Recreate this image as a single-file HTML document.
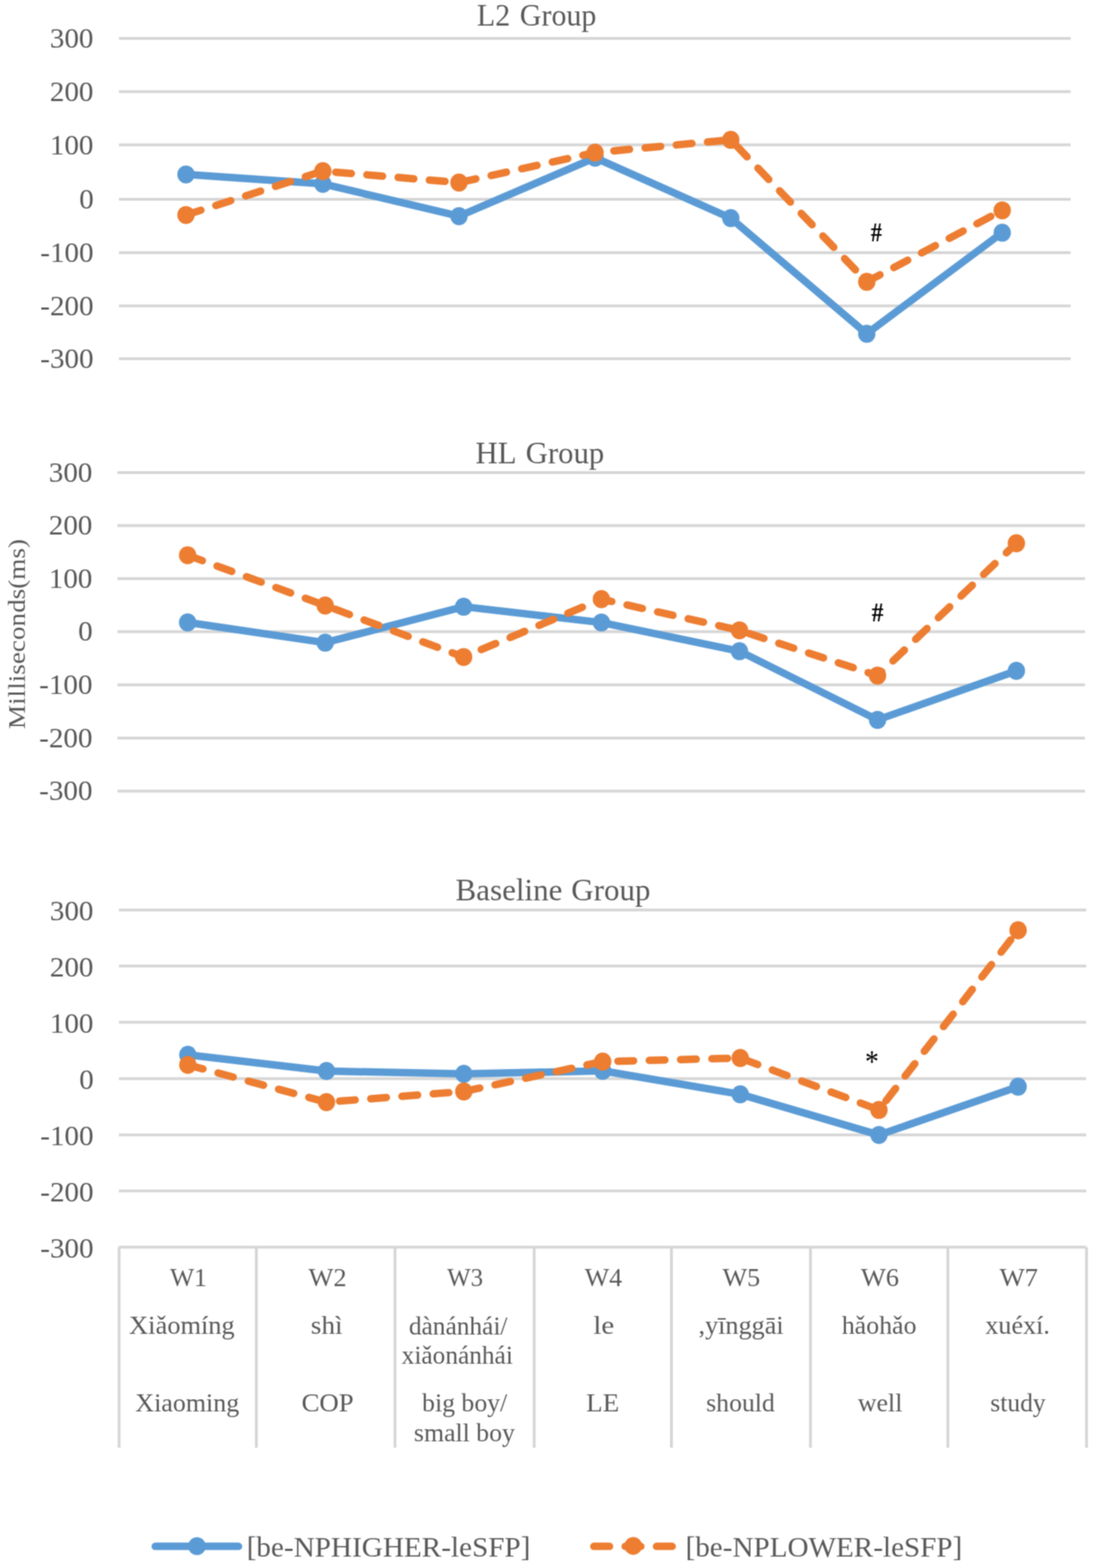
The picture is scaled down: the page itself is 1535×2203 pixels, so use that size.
<!DOCTYPE html><html><head><meta charset="utf-8"><title>Chart</title><style>html,body{margin:0;padding:0;background:#fff;overflow:hidden;}svg{display:block;}text{font-family:"Liberation Serif","Times New Roman",serif;}</style></head><body>
<svg width="1535" height="2203" viewBox="0 0 1535 2203">
<defs><filter id="b" filterUnits="userSpaceOnUse" x="0" y="0" width="1535" height="2203" color-interpolation-filters="sRGB"><feConvolveMatrix order="3" kernelMatrix="1 2 1 2 4 2 1 2 1" divisor="16" edgeMode="duplicate" preserveAlpha="true"/></filter></defs>
<g filter="url(#b)">
<rect width="1535" height="2203" fill="#fff"/>
<line x1="167.0" y1="54.0" x2="1503.6" y2="54.0" stroke="#d6d6d6" stroke-width="4"/>
<line x1="167.0" y1="128.8" x2="1503.6" y2="128.8" stroke="#d6d6d6" stroke-width="4"/>
<line x1="167.0" y1="203.6" x2="1503.6" y2="203.6" stroke="#d6d6d6" stroke-width="4"/>
<line x1="167.0" y1="280.0" x2="1503.6" y2="280.0" stroke="#d6d6d6" stroke-width="4"/>
<line x1="167.0" y1="355.0" x2="1503.6" y2="355.0" stroke="#d6d6d6" stroke-width="4"/>
<line x1="167.0" y1="429.7" x2="1503.6" y2="429.7" stroke="#d6d6d6" stroke-width="4"/>
<line x1="167.0" y1="504.0" x2="1503.6" y2="504.0" stroke="#d6d6d6" stroke-width="4"/>
<line x1="165.0" y1="664.0" x2="1523.7" y2="664.0" stroke="#d6d6d6" stroke-width="4"/>
<line x1="165.0" y1="738.5" x2="1523.7" y2="738.5" stroke="#d6d6d6" stroke-width="4"/>
<line x1="165.0" y1="813.0" x2="1523.7" y2="813.0" stroke="#d6d6d6" stroke-width="4"/>
<line x1="165.0" y1="887.6" x2="1523.7" y2="887.6" stroke="#d6d6d6" stroke-width="4"/>
<line x1="165.0" y1="962.2" x2="1523.7" y2="962.2" stroke="#d6d6d6" stroke-width="4"/>
<line x1="165.0" y1="1037.0" x2="1523.7" y2="1037.0" stroke="#d6d6d6" stroke-width="4"/>
<line x1="165.0" y1="1111.6" x2="1523.7" y2="1111.6" stroke="#d6d6d6" stroke-width="4"/>
<line x1="167.0" y1="1278.4" x2="1525.5" y2="1278.4" stroke="#d6d6d6" stroke-width="4"/>
<line x1="167.0" y1="1357.3" x2="1525.5" y2="1357.3" stroke="#d6d6d6" stroke-width="4"/>
<line x1="167.0" y1="1436.3" x2="1525.5" y2="1436.3" stroke="#d6d6d6" stroke-width="4"/>
<line x1="167.0" y1="1515.4" x2="1525.5" y2="1515.4" stroke="#d6d6d6" stroke-width="4"/>
<line x1="167.0" y1="1594.4" x2="1525.5" y2="1594.4" stroke="#d6d6d6" stroke-width="4"/>
<line x1="167.0" y1="1673.3" x2="1525.5" y2="1673.3" stroke="#d6d6d6" stroke-width="4"/>
<line x1="167.0" y1="1752.2" x2="1525.5" y2="1752.2" stroke="#d6d6d6" stroke-width="4"/>
<line x1="167.3" y1="1752.2" x2="167.3" y2="2034" stroke="#d6d6d6" stroke-width="4"/>
<line x1="360.0" y1="1752.2" x2="360.0" y2="2034" stroke="#d6d6d6" stroke-width="4"/>
<line x1="554.7" y1="1752.2" x2="554.7" y2="2034" stroke="#d6d6d6" stroke-width="4"/>
<line x1="750.2" y1="1752.2" x2="750.2" y2="2034" stroke="#d6d6d6" stroke-width="4"/>
<line x1="943.0" y1="1752.2" x2="943.0" y2="2034" stroke="#d6d6d6" stroke-width="4"/>
<line x1="1138.2" y1="1752.2" x2="1138.2" y2="2034" stroke="#d6d6d6" stroke-width="4"/>
<line x1="1331.2" y1="1752.2" x2="1331.2" y2="2034" stroke="#d6d6d6" stroke-width="4"/>
<line x1="1525.9" y1="1752.2" x2="1525.9" y2="2034" stroke="#d6d6d6" stroke-width="4"/>
<polyline points="261.2,245.1 453.4,258.3 644.6,303.7 835.7,221.6 1026.3,306.4 1217.3,468.9 1407.5,326.9" fill="none" stroke="#5b9bd5" stroke-width="10.5" stroke-linejoin="round" stroke-linecap="round"/>
<ellipse cx="261.2" cy="245.1" rx="12.2" ry="12.7" fill="#5b9bd5"/>
<ellipse cx="453.4" cy="258.3" rx="12.2" ry="12.7" fill="#5b9bd5"/>
<ellipse cx="644.6" cy="303.7" rx="12.2" ry="12.7" fill="#5b9bd5"/>
<ellipse cx="835.7" cy="221.6" rx="12.2" ry="12.7" fill="#5b9bd5"/>
<ellipse cx="1026.3" cy="306.4" rx="12.2" ry="12.7" fill="#5b9bd5"/>
<ellipse cx="1217.3" cy="468.9" rx="12.2" ry="12.7" fill="#5b9bd5"/>
<ellipse cx="1407.5" cy="326.9" rx="12.2" ry="12.7" fill="#5b9bd5"/>
<polyline points="261.2,302.1 453.4,240.4 644.6,256.5 835.7,214.4 1026.3,196.4 1217.3,395.9 1407.5,295.6" fill="none" stroke="#ed7d31" stroke-width="10.5" stroke-linejoin="round" stroke-linecap="round" stroke-dasharray="22 22"/>
<ellipse cx="261.2" cy="302.1" rx="12.2" ry="12.7" fill="#ed7d31"/>
<ellipse cx="453.4" cy="240.4" rx="12.2" ry="12.7" fill="#ed7d31"/>
<ellipse cx="644.6" cy="256.5" rx="12.2" ry="12.7" fill="#ed7d31"/>
<ellipse cx="835.7" cy="214.4" rx="12.2" ry="12.7" fill="#ed7d31"/>
<ellipse cx="1026.3" cy="196.4" rx="12.2" ry="12.7" fill="#ed7d31"/>
<ellipse cx="1217.3" cy="395.9" rx="12.2" ry="12.7" fill="#ed7d31"/>
<ellipse cx="1407.5" cy="295.6" rx="12.2" ry="12.7" fill="#ed7d31"/>
<polyline points="263.5,874.5 456.7,902.9 651.1,852.4 844.6,874.6 1038.5,914.9 1232.4,1011.4 1427.4,942.5" fill="none" stroke="#5b9bd5" stroke-width="10.5" stroke-linejoin="round" stroke-linecap="round"/>
<ellipse cx="263.5" cy="874.5" rx="12.2" ry="12.7" fill="#5b9bd5"/>
<ellipse cx="456.7" cy="902.9" rx="12.2" ry="12.7" fill="#5b9bd5"/>
<ellipse cx="651.1" cy="852.4" rx="12.2" ry="12.7" fill="#5b9bd5"/>
<ellipse cx="844.6" cy="874.6" rx="12.2" ry="12.7" fill="#5b9bd5"/>
<ellipse cx="1038.5" cy="914.9" rx="12.2" ry="12.7" fill="#5b9bd5"/>
<ellipse cx="1232.4" cy="1011.4" rx="12.2" ry="12.7" fill="#5b9bd5"/>
<ellipse cx="1427.4" cy="942.5" rx="12.2" ry="12.7" fill="#5b9bd5"/>
<polyline points="263.5,780.1 456.7,850.7 651.1,923.1 844.6,841.8 1038.5,885.6 1232.4,949.3 1427.4,763.2" fill="none" stroke="#ed7d31" stroke-width="10.5" stroke-linejoin="round" stroke-linecap="round" stroke-dasharray="22 22"/>
<ellipse cx="263.5" cy="780.1" rx="12.2" ry="12.7" fill="#ed7d31"/>
<ellipse cx="456.7" cy="850.7" rx="12.2" ry="12.7" fill="#ed7d31"/>
<ellipse cx="651.1" cy="923.1" rx="12.2" ry="12.7" fill="#ed7d31"/>
<ellipse cx="844.6" cy="841.8" rx="12.2" ry="12.7" fill="#ed7d31"/>
<ellipse cx="1038.5" cy="885.6" rx="12.2" ry="12.7" fill="#ed7d31"/>
<ellipse cx="1232.4" cy="949.3" rx="12.2" ry="12.7" fill="#ed7d31"/>
<ellipse cx="1427.4" cy="763.2" rx="12.2" ry="12.7" fill="#ed7d31"/>
<polyline points="263.8,1482.0 458.5,1504.8 651.4,1508.8 846.4,1504.5 1039.6,1537.4 1234.4,1594.6 1429.8,1526.8" fill="none" stroke="#5b9bd5" stroke-width="10.5" stroke-linejoin="round" stroke-linecap="round"/>
<ellipse cx="263.8" cy="1482.0" rx="12.2" ry="12.7" fill="#5b9bd5"/>
<ellipse cx="458.5" cy="1504.8" rx="12.2" ry="12.7" fill="#5b9bd5"/>
<ellipse cx="651.4" cy="1508.8" rx="12.2" ry="12.7" fill="#5b9bd5"/>
<ellipse cx="846.4" cy="1504.5" rx="12.2" ry="12.7" fill="#5b9bd5"/>
<ellipse cx="1039.6" cy="1537.4" rx="12.2" ry="12.7" fill="#5b9bd5"/>
<ellipse cx="1234.4" cy="1594.6" rx="12.2" ry="12.7" fill="#5b9bd5"/>
<ellipse cx="1429.8" cy="1526.8" rx="12.2" ry="12.7" fill="#5b9bd5"/>
<polyline points="263.8,1496.1 458.5,1548.5 651.4,1533.5 846.4,1491.5 1039.6,1486.5 1234.4,1559.4 1429.8,1307.0" fill="none" stroke="#ed7d31" stroke-width="10.5" stroke-linejoin="round" stroke-linecap="round" stroke-dasharray="22 22"/>
<ellipse cx="263.8" cy="1496.1" rx="12.2" ry="12.7" fill="#ed7d31"/>
<ellipse cx="458.5" cy="1548.5" rx="12.2" ry="12.7" fill="#ed7d31"/>
<ellipse cx="651.4" cy="1533.5" rx="12.2" ry="12.7" fill="#ed7d31"/>
<ellipse cx="846.4" cy="1491.5" rx="12.2" ry="12.7" fill="#ed7d31"/>
<ellipse cx="1039.6" cy="1486.5" rx="12.2" ry="12.7" fill="#ed7d31"/>
<ellipse cx="1234.4" cy="1559.4" rx="12.2" ry="12.7" fill="#ed7d31"/>
<ellipse cx="1429.8" cy="1307.0" rx="12.2" ry="12.7" fill="#ed7d31"/>
<text transform="translate(0 36.00) scale(0.9560 1)" font-size="44" fill="#595959"><tspan x="700.69">L2</tspan> <tspan x="763.71">Group</tspan></text>
<text transform="translate(0 650.80) scale(0.9822 1)" font-size="44" fill="#595959"><tspan x="679.81">HL</tspan> <tspan x="751.61">Group</tspan></text>
<text transform="translate(0 1264.60) scale(0.9899 1)" font-size="44" fill="#595959"><tspan x="646.35">Baseline</tspan> <tspan x="810.53">Group</tspan></text>
<text transform="translate(1223.00 339.40) scale(0.8211 0.9800)" font-size="38" font-weight="bold" fill="#000">#</text>
<text transform="translate(1224.20 872.60) scale(0.8684 0.9800)" font-size="38" font-weight="bold" fill="#000">#</text>
<text transform="translate(1214.65 1506.44) scale(1.0267 1.1857)" font-size="38" fill="#000">*</text>
<text transform="translate(238.70 1806.90) scale(1.0271 1)" font-size="35" fill="#595959">W1</text>
<text transform="translate(433.30 1806.90) scale(1.0592 1)" font-size="35" fill="#595959">W2</text>
<text transform="translate(628.00 1806.90) scale(0.9959 1)" font-size="35" fill="#595959">W3</text>
<text transform="translate(821.30 1806.90) scale(1.0380 1)" font-size="35" fill="#595959">W4</text>
<text transform="translate(1014.70 1806.90) scale(1.0469 1)" font-size="35" fill="#595959">W5</text>
<text transform="translate(1209.00 1806.90) scale(1.0612 1)" font-size="35" fill="#595959">W6</text>
<text transform="translate(1403.70 1806.90) scale(1.0714 1)" font-size="35" fill="#595959">W7</text>
<text transform="translate(181.34 1874.40) scale(1.0601 1)" font-size="35" fill="#595959">Xiǎomíng</text>
<text transform="translate(436.61 1873.60) scale(1.0897 1)" font-size="35" fill="#595959">shì</text>
<text transform="translate(574.18 1874.70) scale(1.0185 1)" font-size="35" fill="#595959">dànánhái/</text>
<text transform="translate(564.10 1916.40) scale(1.0176 1)" font-size="35" fill="#595959">xiǎonánhái</text>
<text transform="translate(833.23 1873.60) scale(1.1696 1)" font-size="35" fill="#595959">le</text>
<text transform="translate(981.05 1873.60) scale(1.0500 1)" font-size="35" fill="#595959">,yīnggāi</text>
<text transform="translate(1182.20 1874.40) scale(1.0380 1)" font-size="35" fill="#595959">hǎohǎo</text>
<text transform="translate(1383.70 1873.60) scale(1.0488 1)" font-size="35" fill="#595959">xuéxí.</text>
<text transform="translate(190.06 1982.60) scale(1.0420 1)" font-size="35" fill="#595959">Xiaoming</text>
<text transform="translate(423.42 1982.60) scale(1.0785 1)" font-size="35" fill="#595959">COP</text>
<text transform="translate(592.80 1982.80) scale(1.0336 1)" font-size="35" fill="#595959">big boy/</text>
<text transform="translate(581.37 2024.50) scale(1.0346 1)" font-size="35" fill="#595959">small boy</text>
<text transform="translate(823.32 1982.60) scale(1.0800 1)" font-size="35" fill="#595959">LE</text>
<text transform="translate(991.77 1982.60) scale(1.0326 1)" font-size="35" fill="#595959">should</text>
<text transform="translate(1204.70 1982.60) scale(1.0390 1)" font-size="35" fill="#595959">well</text>
<text transform="translate(1390.77 1982.60) scale(1.0253 1)" font-size="35" fill="#595959">study</text>
<text transform="translate(346.45 2186.60) scale(1.0515 1)" font-size="39" fill="#595959">[be-NPHIGHER-leSFP]</text>
<text transform="translate(962.75 2186.60) scale(1.0496 1)" font-size="39" fill="#595959">[be-NPLOWER-leSFP]</text>
<text transform="translate(69.97 67.00) scale(1.0350 1)" font-size="39.5" fill="#595959">300</text>
<text transform="translate(69.97 141.80) scale(1.0350 1)" font-size="39.5" fill="#595959">200</text>
<text transform="translate(69.97 216.60) scale(1.0350 1)" font-size="39.5" fill="#595959">100</text>
<text transform="translate(111.37 293.00) scale(1.0350 1)" font-size="39.5" fill="#595959">0</text>
<text transform="translate(56.52 368.00) scale(1.0350 1)" font-size="39.5" fill="#595959">-100</text>
<text transform="translate(56.52 442.70) scale(1.0350 1)" font-size="39.5" fill="#595959">-200</text>
<text transform="translate(56.52 517.00) scale(1.0350 1)" font-size="39.5" fill="#595959">-300</text>
<text transform="translate(68.47 676.65) scale(1.0350 1)" font-size="39.5" fill="#595959">300</text>
<text transform="translate(68.47 751.15) scale(1.0350 1)" font-size="39.5" fill="#595959">200</text>
<text transform="translate(68.47 825.65) scale(1.0350 1)" font-size="39.5" fill="#595959">100</text>
<text transform="translate(109.87 900.25) scale(1.0350 1)" font-size="39.5" fill="#595959">0</text>
<text transform="translate(55.02 974.85) scale(1.0350 1)" font-size="39.5" fill="#595959">-100</text>
<text transform="translate(55.02 1049.65) scale(1.0350 1)" font-size="39.5" fill="#595959">-200</text>
<text transform="translate(55.02 1124.25) scale(1.0350 1)" font-size="39.5" fill="#595959">-300</text>
<text transform="translate(69.97 1292.70) scale(1.0350 1)" font-size="39.5" fill="#595959">300</text>
<text transform="translate(69.97 1371.60) scale(1.0350 1)" font-size="39.5" fill="#595959">200</text>
<text transform="translate(69.97 1450.60) scale(1.0350 1)" font-size="39.5" fill="#595959">100</text>
<text transform="translate(111.37 1529.70) scale(1.0350 1)" font-size="39.5" fill="#595959">0</text>
<text transform="translate(56.52 1608.70) scale(1.0350 1)" font-size="39.5" fill="#595959">-100</text>
<text transform="translate(56.52 1687.60) scale(1.0350 1)" font-size="39.5" fill="#595959">-200</text>
<text transform="translate(56.52 1766.50) scale(1.0350 1)" font-size="39.5" fill="#595959">-300</text>
<text transform="translate(34.7 890.75) rotate(-90) scale(1.122 1)" font-size="34" text-anchor="middle" fill="#595959">Milliseconds(ms)</text>
<line x1="218" y1="2172.6" x2="335" y2="2172.6" stroke="#5b9bd5" stroke-width="10.5" stroke-linecap="round"/>
<circle cx="276.6" cy="2172.3" r="12.5" fill="#5b9bd5"/>
<line x1="834" y1="2172.6" x2="856" y2="2172.6" stroke="#ed7d31" stroke-width="10.5" stroke-linecap="round"/>
<line x1="922" y1="2172.6" x2="944" y2="2172.6" stroke="#ed7d31" stroke-width="10.5" stroke-linecap="round"/>
<line x1="878" y1="2172.6" x2="900" y2="2172.6" stroke="#ed7d31" stroke-width="10.5" stroke-linecap="round"/>
<circle cx="889.3" cy="2172" r="12.5" fill="#ed7d31"/>
</g>
</svg></body></html>
